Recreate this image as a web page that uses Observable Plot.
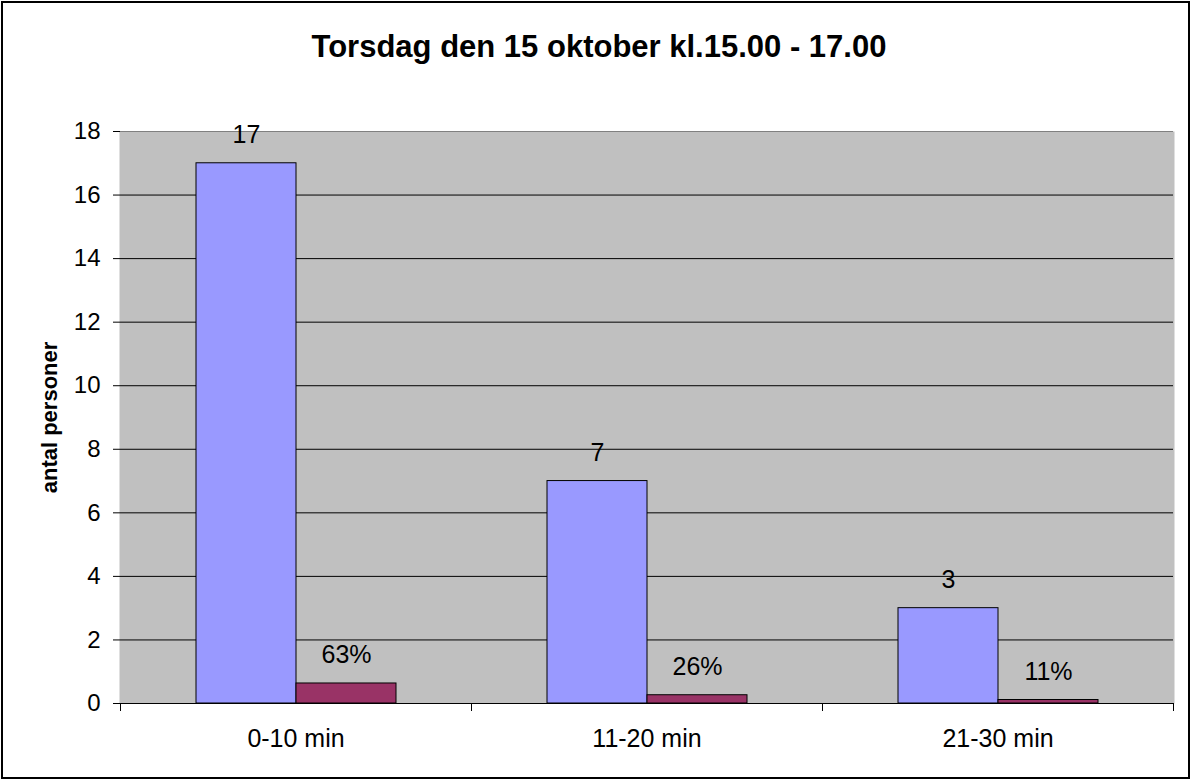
<!DOCTYPE html>
<html>
<head>
<meta charset="utf-8">
<script src="https://cdn.jsdelivr.net/npm/d3@7"></script>
<script src="https://cdn.jsdelivr.net/npm/@observablehq/plot@0.6"></script>
<style>
  html, body { margin: 0; padding: 0; background: #fff; }
  body { position: relative; width: 1192px; height: 782px; overflow: hidden; font-family: "Liberation Sans", Arial, sans-serif; }
  #border { position: absolute; left: 1px; top: 1px; width: 1189px; height: 778px; box-sizing: border-box; border: 2px solid #000; pointer-events: none; }
  #title { position: absolute; left: 6px; top: 29px; width: 1186px; text-align: center; font-weight: bold; font-size: 31px; line-height: 36px; color: #000; }
  #chart { position: absolute; left: 0; top: 100px; }
  #chart g[aria-label="y-axis label"] text { font-weight: bold; font-size: 22px; }
</style>
</head>
<body>
<div id="title">Torsdag den 15 oktober kl.15.00 - 17.00</div>
<div id="chart"></div>
<div id="border"></div>
<script>
const categories = ["0-10 min", "11-20 min", "21-30 min"];
const series = ["antal", "andel"];
const counts = [17, 7, 3];
const shares = [0.63, 0.26, 0.11];
const shareLabels = ["63%", "26%", "11%"];
const yTicks = [0, 2, 4, 6, 8, 10, 12, 14, 16, 18];
const gridTicks = [2, 4, 6, 8, 10, 12, 14, 16];
const colors = ["#9999FF", "#993366"];

const rows = [];
categories.forEach((c, i) => {
  rows.push({cat: c, series: "antal", value: counts[i], label: String(counts[i])});
  rows.push({cat: c, series: "andel", value: shares[i], label: shareLabels[i]});
});

const plot = Plot.plot({
  width: 1192,
  height: 676,
  marginTop: 31,
  marginBottom: 73,
  marginLeft: 120,
  marginRight: 19,
  style: {fontFamily: "'Liberation Sans', Arial, sans-serif", fontSize: "24px", color: "#000", background: "transparent"},
  fx: {domain: categories, padding: 0},
  x: {domain: series, paddingInner: 0, paddingOuter: 0.75, axis: null},
  y: {domain: [0, 18]},
  color: {domain: series, range: colors},
  marks: [
    Plot.frame({fill: "#C0C0C0", insetLeft: -1, insetRight: -1}),
    Plot.gridY(gridTicks, {stroke: "#000", strokeOpacity: 1}),
    Plot.ruleY([18], {stroke: "#808080"}),
    Plot.axisY({anchor: "right", ticks: [], tickSize: 0, line: true, stroke: "#808080", label: null}),
    Plot.barY(rows, {fx: "cat", x: "series", y: "value", fill: "series", stroke: "#000", strokeWidth: 1, inset: 0}),
    Plot.text(rows, {fx: "cat", x: "series", y: "value", text: "label", dy: -28, fontSize: 25, fill: "#000"}),
    Plot.ruleY([0], {stroke: "#000"}),
    Plot.frame({anchor: "left", stroke: "#000", insetTop: 572, insetBottom: -7}),
    Plot.frame({anchor: "right", stroke: "#000", insetTop: 572, insetBottom: -7}),
    Plot.axisY({ticks: yTicks, tickSize: 7, tickPadding: 13, fontSize: 24, line: true, stroke: "#000",
      label: "antal personer", labelAnchor: "center", labelArrow: "none", labelOffset: 79}),
    Plot.axisFx({anchor: "bottom", tickSize: 0, tickPadding: 26, fontSize: 25, label: null})
  ]
});
document.getElementById("chart").appendChild(plot);
</script>
</body>
</html>
